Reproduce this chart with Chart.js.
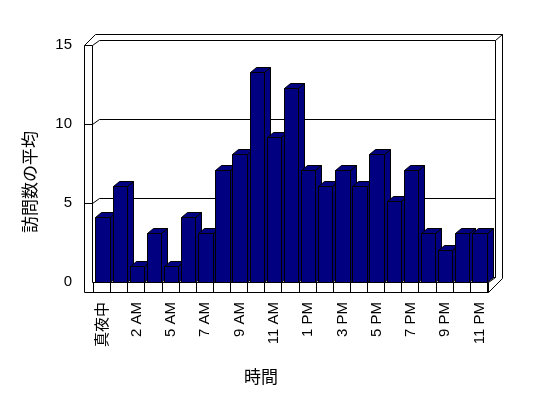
<!DOCTYPE html>
<html>
<head>
<meta charset="utf-8">
<script src="https://cdn.jsdelivr.net/npm/chart.js@4"></script>
<style>
    body { margin: 0; background: #fff; }
</style>
</head>
<body>
<canvas id="chart" width="548" height="398"></canvas>
<script>
// Chart data
const hours = ['真夜中', '1 AM', '2 AM', '4 AM', '5 AM', '6 AM', '7 AM', '8 AM', '9 AM', '10 AM', '11 AM', '正午',
    '1 PM', '2 PM', '3 PM', '4 PM', '5 PM', '6 PM', '7 PM', '8 PM', '9 PM', '10 PM', '11 PM'];
const visits = [4.1, 6.1, 1.0, 3.1, 1.0, 4.1, 3.1, 7.1, 8.1, 13.3, 9.2, 12.3,
    7.1, 6.1, 7.1, 6.1, 8.1, 5.1, 7.1, 3.1, 2.0, 3.1, 3.1];
const yTicks = [0, 5, 10, 15];
const yTitle = '訪問数の平均';
const xTitle = '時間';

const FONT = '15px "Liberation Sans", "Noto Sans CJK JP", sans-serif';
const TITLE_FONT = '17px "Noto Sans CJK JP", sans-serif';
const NAVY = '#000080';

// crisp 1px line
function line(ctx, x1, y1, x2, y2) {
    ctx.beginPath();
    ctx.moveTo(Math.round(x1) + 0.5, Math.round(y1) + 0.5);
    ctx.lineTo(Math.round(x2) + 0.5, Math.round(y2) + 0.5);
    ctx.stroke();
}

function poly(ctx, pts) {
    ctx.beginPath();
    pts.forEach(([x, y], i) => {
        const px = Math.round(x) + 0.5, py = Math.round(y) + 0.5;
        if (i === 0) ctx.moveTo(px, py); else ctx.lineTo(px, py);
    });
    ctx.closePath();
    ctx.fill();
    ctx.stroke();
}

// Excel style 3D walls, floor, grid and text
const frame3d = {
    id: 'frame3d',
    beforeDatasetsDraw(chart) {
        const ctx = chart.ctx;
        const ca = chart.chartArea;
        const y = chart.scales.y;
        const x = chart.scales.x;
        const L = ca.left, R = ca.right, T = ca.top, B = ca.bottom;
        const fl = L - 9, wi = L - 1;       // left wall front face
        const dx = 7, dy = -5;              // depth to back wall
        const bx0 = wi + dx, bx1 = R + 8;
        const fb = B + 10;                  // floor front bottom

        ctx.save();
        ctx.strokeStyle = '#000';
        ctx.lineWidth = 1;

        // back wall
        line(ctx, fl, T, fl + 11, T - 11);
        line(ctx, fl + 11, T - 11, bx1 + 7, T - 11);
        line(ctx, bx1 + 7, T - 11, bx1 + 7, B - 4);
        line(ctx, wi, T, bx0, T + dy);
        line(ctx, bx0, T + dy, bx1, T + dy);
        line(ctx, bx1, T + dy, bx1 + 7, T - 11);
        line(ctx, bx1, T + dy, bx1, B + dy);
        line(ctx, bx0, B + dy, bx1, B + dy);

        // left wall front face
        line(ctx, fl, T, wi, T);
        line(ctx, fl, T, fl, fb);
        line(ctx, wi, T, wi, B);

        // gridlines
        yTicks.forEach(v => {
            if (v === 0 || v === 15) return;
            const py = y.getPixelForValue(v);
            line(ctx, fl, py, wi, py);
            line(ctx, wi, py, bx0, py + dy);
            line(ctx, bx0, py + dy, bx1, py + dy);
        });

        // floor
        line(ctx, wi, B, R + 1, B);
        line(ctx, fl, fb, R + 1, fb);
        line(ctx, R + 1, B, R + 1, fb);
        line(ctx, R + 1, B, bx1, B + dy);
        line(ctx, R + 1, fb, bx1 + 7, B - 4);
        for (let i = 0; i <= hours.length; i++) {
            const px = L + (R - L) * i / hours.length;
            line(ctx, px, B, px, fb);
        }

        // text
        ctx.fillStyle = '#000';
        ctx.font = FONT;
        ctx.textAlign = 'right';
        ctx.textBaseline = 'middle';
        yTicks.forEach(v => ctx.fillText(String(v), fl - 12, y.getPixelForValue(v)));

        hours.forEach((h, i) => {
            if (i % 2) return;
            ctx.save();
            ctx.translate(x.getPixelForValue(i), fb + 10);
            ctx.rotate(-Math.PI / 2);
            ctx.textAlign = 'right';
            ctx.fillText(h, 0, 1);
            ctx.restore();
        });

        ctx.font = TITLE_FONT;
        ctx.textAlign = 'center';
        ctx.fillText(xTitle, 261, 377);
        ctx.save();
        ctx.translate(30, 182);
        ctx.rotate(-Math.PI / 2);
        ctx.fillText(yTitle, 0, 0);
        ctx.restore();
        ctx.restore();
    },
    afterDatasetsDraw(chart) {
        const ctx = chart.ctx;
        const meta = chart.getDatasetMeta(0);
        const dx = 6, dy = -5;
        ctx.save();
        ctx.strokeStyle = '#000';
        ctx.lineWidth = 1;
        ctx.fillStyle = NAVY;
        meta.data.forEach(bar => {
            const x0 = bar.x - bar.width / 2 + 1;
            const x1 = bar.x + bar.width / 2 + 1;
            const yt = bar.y, yb = bar.base;
            // side
            poly(ctx, [[x1, yt], [x1 + dx, yt + dy], [x1 + dx, yb + dy], [x1, yb]]);
            // top
            poly(ctx, [[x0, yt], [x0 + dx, yt + dy], [x1 + dx, yt + dy], [x1, yt]]);
            // front
            poly(ctx, [[x0, yt], [x1, yt], [x1, yb], [x0, yb]]);
        });
        ctx.restore();
    }
};

new Chart(document.getElementById('chart'), {
    type: 'bar',
    data: {
        labels: hours,
        datasets: [{
            label: yTitle,
            data: visits,
            backgroundColor: 'rgba(0,0,0,0)',
            borderWidth: 0,
            categoryPercentage: 1,
            barPercentage: 0.84
        }]
    },
    options: {
        responsive: false,
        animation: false,
        layout: {
            padding: { left: 93, right: 61, top: 45, bottom: 116 }
        },
        plugins: {
            legend: { display: false },
            tooltip: { enabled: false }
        },
        scales: {
            x: { display: false },
            y: { display: false, min: 0, max: 15 }
        }
    },
    plugins: [frame3d]
});
</script>
</body>
</html>
